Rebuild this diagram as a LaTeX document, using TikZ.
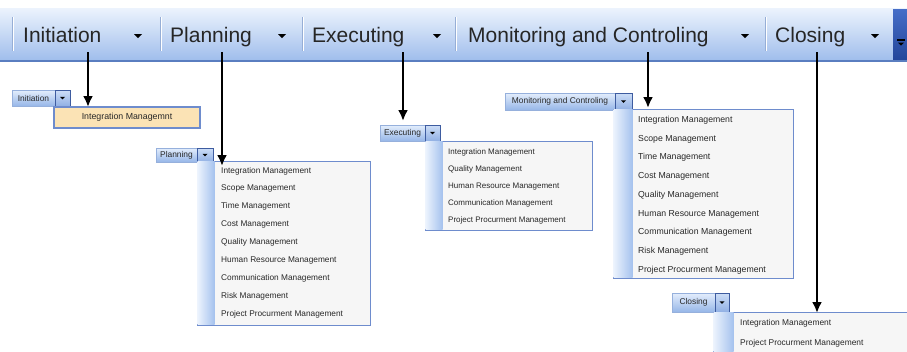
\documentclass[tikz,border=0pt]{standalone}
\usepackage{fontspec}
\setmainfont{Liberation Sans}
\usetikzlibrary{arrows.meta}
\definecolor{bartop}{RGB}{236,243,253}
\definecolor{barbot}{RGB}{160,190,236}
\definecolor{barline}{RGB}{90,126,192}
\definecolor{sepc}{RGB}{150,174,214}
\definecolor{menubord}{RGB}{110,140,205}
\definecolor{menufill}{RGB}{246,246,246}
\definecolor{gutl}{RGB}{236,243,253}
\definecolor{gutr}{RGB}{165,194,238}
\definecolor{hilite}{RGB}{251,227,181}
\definecolor{itemtxt}{RGB}{40,40,40}
\definecolor{btntop}{RGB}{228,238,252}
\definecolor{btnbot}{RGB}{150,182,232}
\definecolor{btnbord}{RGB}{150,176,220}
\definecolor{ddtop}{RGB}{205,222,247}
\definecolor{ddbot}{RGB}{145,176,228}
\definecolor{ddbord}{RGB}{62,92,160}
\definecolor{griptop}{RGB}{70,110,200}
\definecolor{gripbot}{RGB}{35,70,155}
\tikzset{
  box/.style={inner sep=0pt, outer sep=0pt, anchor=north west},
  btn/.style={box, draw=btnbord, line width=0.7pt, top color=btntop, bottom color=btnbot,
    text=itemtxt, font=\fontsize{8.4}{10}\selectfont},
  ddbtn/.style={box, draw=ddbord, line width=0.9pt, top color=ddtop, bottom color=ddbot},
  menubox/.style={box, draw=menubord, fill=menufill, line width=1pt},
  gutter/.style={box, left color=gutl, right color=gutr},
  item/.style={anchor=base west, inner sep=0pt, text=itemtxt, font=\fontsize{#1}{10}\selectfont},
  item/.default=8.3,
  tab/.style={anchor=base west, inner sep=0pt, text=black!85, font=\fontsize{21}{24}\selectfont},
  callout/.style={-{Latex[length=11pt,width=10pt]}, line width=2.7pt, black},
  ddtri/.pic={\fill (-2.5,-1.2) -- (2.5,-1.2) -- (0,1.4) -- cycle;}
}
\begin{document}
\begin{tikzpicture}[x=1pt,y=-1pt]
\useasboundingbox (0,0) rectangle (907,351);
\clip (0,0) rectangle (907,351);
\fill[white] (0,0) rectangle (907,351);

% ---- top toolbar ----
\node[box, minimum width=907pt, minimum height=52pt, top color=bartop, bottom color=barbot] (bar) at (0,8) {};
\draw[barline, line width=2.4pt] ([yshift=-1.2pt]bar.south west) -- ([yshift=-1.2pt]bar.south east);
\foreach \sx in {12,160,302,455,765}{
  \draw[sepc, line width=0.9pt] (\sx,17) -- (\sx,51);
  \draw[white, line width=0.8pt] (\sx+1.2,17) -- (\sx+1.2,51);
}
\node[tab] (tI) at (23,42) {Initiation};
\node[tab] (tP) at (170,42) {Planning};
\node[tab] (tE) at (312,42) {Executing};
\node[tab] (tM) at (468,42) {Monitoring and Controling};
\node[tab] (tC) at (775,42) {Closing};
\foreach \tx in {138,282,437,745,875}{
  \pic[scale=1.6] at (\tx,36) {ddtri};
}
\node[box, minimum width=16pt, minimum height=50pt, top color=griptop, bottom color=gripbot] (grip) at (893,9) {};
\draw[black, line width=1.3pt] (897,40) -- (905,40);
\pic[scale=1.2] at (901,44) {ddtri};

% ---- Initiation ----
\node[btn, minimum width=43pt, minimum height=16pt] (ib) at (12,90) {Initiation};
\node[ddbtn, minimum width=15pt, minimum height=16pt] (ibd) at (55,90) {};
\pic at (ibd.center) {ddtri};
\node[box, draw=menubord, fill=hilite, line width=1.3pt, minimum width=146pt, minimum height=21pt] (im) at (54,107) {};
\node[anchor=center, inner sep=0pt, text=itemtxt, font=\fontsize{8.8}{10}\selectfont] (i1) at (im.center) {Integration Managemnt};

% ---- Planning ----
\node[btn, minimum width=41pt, minimum height=14pt] (pb) at (156,148) {Planning};
\node[ddbtn, minimum width=16pt, minimum height=14pt] (pbd) at (197,148) {};
\pic at (pbd.center) {ddtri};
\node[menubox, minimum width=173pt, minimum height=164pt] (pm) at (197,161) {};
\node[gutter, minimum width=17pt, minimum height=163pt] (pg) at (197.5,161.5) {};
\foreach \t [count=\i] in {Integration Management, Scope Management, Time Management, Cost Management,
  Quality Management, Human Resource Management, Communication Management, Risk Management,
  Project Procurment Management}{
  \node[item=8.3] (p\i) at (221,{173+17.9*(\i-1)}) {\t};
}

% ---- Executing ----
\node[btn, minimum width=45pt, minimum height=16pt] (eb) at (380,125) {Executing};
\node[ddbtn, minimum width=15pt, minimum height=16pt] (ebd) at (425,125) {};
\pic at (ebd.center) {ddtri};
\node[menubox, minimum width=167pt, minimum height=89pt] (em) at (425,141) {};
\node[gutter, minimum width=17pt, minimum height=88pt] (eg) at (425.5,141.5) {};
\foreach \t [count=\i] in {Integration Management, Quality Management, Human Resource Management,
  Communication Management, Project Procurment Management}{
  \node[item=8.0] (e\i) at (448,{154+17.2*(\i-1)}) {\t};
}

% ---- Monitoring and Controling ----
\node[btn, minimum width=110pt, minimum height=17pt] (mb) at (505,93) {Monitoring and Controling};
\node[ddbtn, minimum width=17pt, minimum height=17pt] (mbd) at (615,93) {};
\pic at (mbd.center) {ddtri};
\node[menubox, minimum width=180pt, minimum height=169pt] (mm) at (613,109) {};
\node[gutter, minimum width=19pt, minimum height=168pt] (mg) at (613.5,109.5) {};
\foreach \t [count=\i] in {Integration Management, Scope Management, Time Management, Cost Management,
  Quality Management, Human Resource Management, Communication Management, Risk Management,
  Project Procurment Management}{
  \node[item=8.7] (m\i) at (638,{122.5+18.7*(\i-1)}) {\t};
}

% ---- Closing ----
\node[btn, minimum width=43pt, minimum height=19pt] (cb) at (672,293) {Closing};
\node[ddbtn, minimum width=14pt, minimum height=19pt] (cbd) at (715,293) {};
\pic at (cbd.center) {ddtri};
\node[menubox, minimum width=205pt, minimum height=60pt] (cm) at (713,312) {};
\node[gutter, minimum width=20pt, minimum height=59pt] (cg) at (713.5,312.5) {};
\node[item=8.4] (c1) at (740,325) {Integration Management};
\node[item=8.4] (c2) at (740,345) {Project Procurment Management};

% ---- callout arrows ----
\coordinate (sI) at (88,52);  \coordinate (eI) at (88,107);
\coordinate (sP) at (222,52); \coordinate (eP) at (222,166);
\coordinate (sE) at (403,52); \coordinate (eE) at (403,121);
\coordinate (sM) at (648,52); \coordinate (eM) at (648,108);
\coordinate (sC) at (817,52); \coordinate (eC) at (817,313);
\draw[callout] (sI) -- (eI);
\draw[callout] (sP) -- (eP);
\draw[callout] (sE) -- (eE);
\draw[callout] (sM) -- (eM);
\draw[callout] (sC) -- (eC);
\end{tikzpicture}
\end{document}
